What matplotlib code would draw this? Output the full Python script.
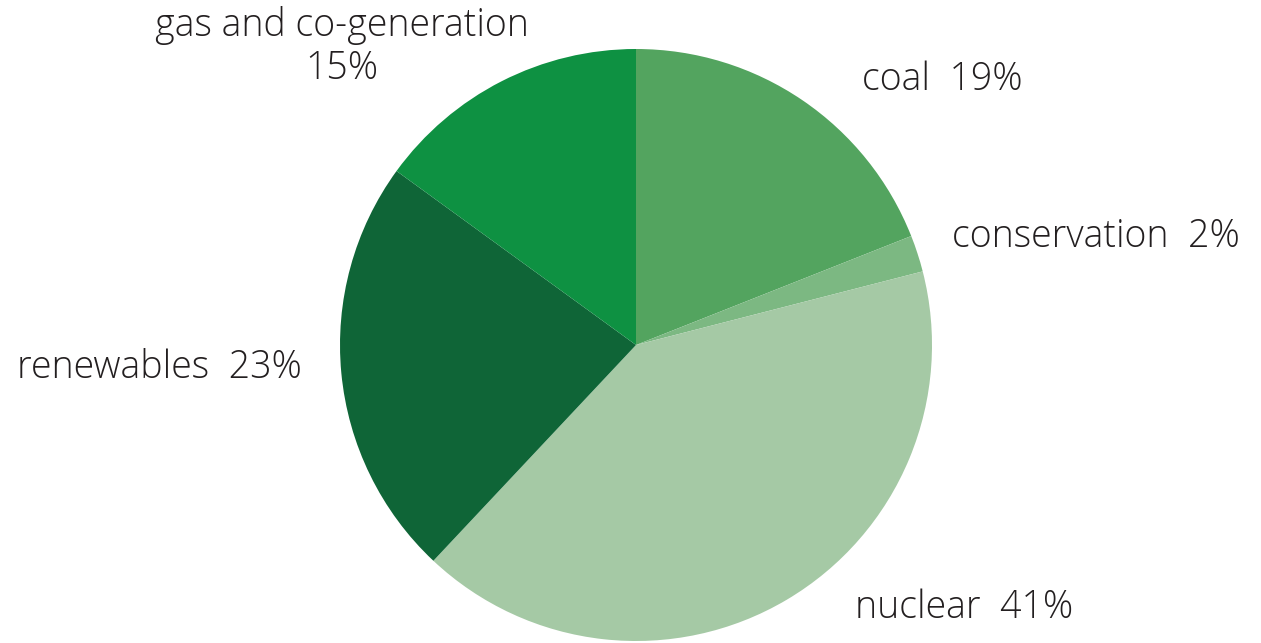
import matplotlib.pyplot as plt

# ── Data ─────────────────────────────────────────
sources = ['coal', 'conservation', 'nuclear', 'renewables', 'gas and co-generation']
shares = [19, 2, 41, 23, 15]
colors = ['#53a45f', '#7cb882', '#a5c9a5', '#0f6537', '#0e9142']

# label anchor (pixel coords, from top-left) and alignment
label_pos = [(862, 80, 'left'), (952, 237, 'left'), (855, 608, 'left'),
             (17, 368, 'left'), (342, 47, 'center')]

W, H = 1261, 643
fig = plt.figure(figsize=(W / 100, H / 100), dpi=100)
ax = fig.add_axes([0, 0, 1, 1])

ax.pie(shares, colors=colors, startangle=90, counterclock=False,
       center=(636, H - 345), radius=296,
       wedgeprops=dict(linewidth=0))

ax.set_xlim(0, W)
ax.set_ylim(0, H)
ax.set_aspect('equal')
ax.axis('off')

for name, val, (x, y, ha) in zip(sources, shares, label_pos):
    if name.startswith('gas'):
        txt = f'{name}\n{val}%'
    else:
        txt = f'{name}  {val}%'
    ax.text(x, H - y, txt, ha=ha, va='center', fontsize=27,
            family='Open Sans', fontweight='light', color='#231f20',
            linespacing=1.15)

fig.savefig('out.png', dpi=100)
